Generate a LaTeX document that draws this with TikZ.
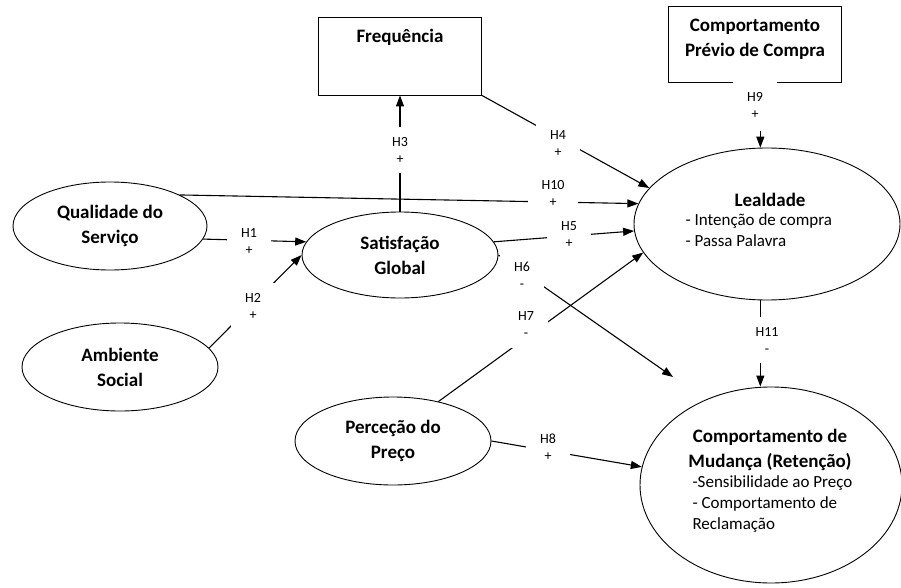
\documentclass[tikz,border=0pt]{standalone}
\usepackage{fontspec}
\setmainfont{Carlito}
\usetikzlibrary{shapes.geometric, arrows.meta, positioning}

\begin{document}
\begin{tikzpicture}[
    x=1pt, y=-1pt,
    construct/.style={draw, ellipse, line width=0.9pt, inner sep=0pt, align=center, font=\fontsize{19}{25}\selectfont\bfseries},
    box/.style={draw, rectangle, line width=0.9pt, inner sep=0pt},
    title/.style={align=center, font=\fontsize{19}{24.5}\selectfont\bfseries},
    items/.style={align=left, anchor=west, font=\fontsize{17}{21}\selectfont},
    hyp/.style={fill=white, inner xsep=14pt, inner ysep=10pt, align=center, font=\fontsize{14}{17}\selectfont},
    arrow/.style={-{Triangle[length=11pt, width=8pt]}, line width=1.1pt},
]
    \useasboundingbox (0,0) rectangle (901,588);

    % constructs
    \node[construct, minimum width=194pt, minimum height=88pt] (qual) at (110,226) {Qualidade do\\Serviço};
    \node[construct, minimum width=196pt, minimum height=88pt] (amb) at (120,367) {Ambiente\\Social};
    \node[construct, minimum width=196pt, minimum height=86pt] (satis) at (400,255) {Satisfação\\Global};
    \node[construct, minimum width=196pt, minimum height=88pt] (perc) at (393,441) {Perceção do\\Preço};
    \node[construct, minimum width=266pt, minimum height=152pt] (leal) at (767,224) {};
    \node[construct, minimum width=262pt, minimum height=196pt] (mud) at (771,485) {};
    \node[box, minimum width=163pt, minimum height=78pt] (freq) at (400,56) {};
    \node[box, minimum width=173pt, minimum height=76pt] (cpc) at (755,44) {};

    % texts inside
    \node[title] (freqtxt) at (400,37) {Frequência};
    \node[title] (cpctxt) at (755,39.5) {Comportamento\\Prévio de Compra};
    \node[title] (lealtit) at (770,200) {Lealdade};
    \node[items] (lealitems) at (682,230.5) {- Intenção de compra\\- Passa Palavra};
    \node[title] (mudtit) at (770,450) {Comportamento de\\Mudança (Retenção)};
    \node[items] (muditems) at (689,504) {-Sensibilidade ao Preço\\- Comportamento de\\Reclamação};

    \coordinate (h6end) at (673,377);

    % hypotheses
    \draw[arrow] (qual.-8) -- (satis.172);
    \draw[arrow] (amb.12) -- (satis.180);
    \draw[arrow] (satis.north) -- (freq.south);
    \draw[arrow] (freq.south east) -- (leal.163);
    \draw[arrow] (satis.8) -- (leal.183);
    \draw[arrow] (satis.east) -- (h6end);
    \draw[arrow] (perc.41) -- (leal.193);
    \draw[arrow] (perc.east) -- (mud.172);
    \draw[arrow] (cpc.south -| leal.95) -- (leal.95);
    \draw[arrow] (qual.24) -- (leal.171);
    \draw[arrow] (leal.-95) -- (leal.-95 |- mud.north);

    \node[hyp] (h1) at (249,241) {H1\\+};
    \node[hyp] (h2) at (253,306) {H2\\+};
    \node[hyp] (h3) at (400,150) {H3\\+};
    \node[hyp] (h4) at (558,144) {H4\\+};
    \node[hyp] (h5) at (569,235) {H5\\+};
    \node[hyp] (h6) at (522,275) {H6\\-};
    \node[hyp] (h7) at (526,325) {H7\\-};
    \node[hyp] (h8) at (548,447) {H8\\+};
    \node[hyp, inner ysep=13pt] (h9) at (755,105) {H9\\+};
    \node[hyp] (h10) at (553,193) {H10\\+};
    \node[hyp] (h11) at (767,340) {H11\\-};
\end{tikzpicture}
\end{document}
